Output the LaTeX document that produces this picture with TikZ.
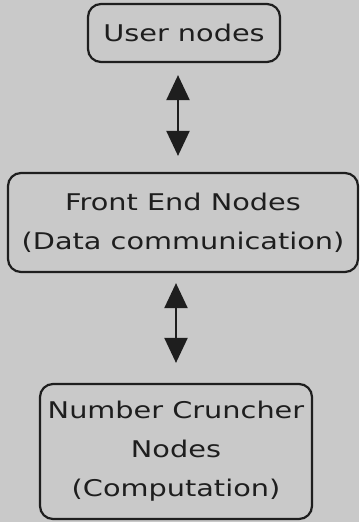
\documentclass[tikz,border=0pt]{standalone}
\usepackage{fontspec}
\newfontfamily\hand[FakeStretch=1.25]{DejaVu Sans}
\usetikzlibrary{arrows.meta}
\definecolor{bg}{HTML}{C9C9C9}
\definecolor{ink}{HTML}{1E1E1E}
\tikzset{
  box/.style={draw=ink, line width=2.2pt, rounded corners=13pt, align=center,
    inner sep=0pt, text=ink, font=\hand\fontsize{23}{39}\selectfont},
  link/.style={draw=ink, line width=2.2pt, {Triangle[width=23pt,length=25pt]}-{Triangle[width=23pt,length=25pt]}}
}
\begin{document}
\begin{tikzpicture}[x=1pt,y=-1pt]
\fill[bg] (0,0) rectangle (359,522);
\useasboundingbox (0,0) rectangle (359,522);
\node[box, minimum width=192pt, minimum height=58pt] (user) at (184,33) {User nodes};
\node[box, minimum width=350pt, minimum height=99pt] (front) at (183,222.5) {Front End Nodes\\(Data communication)};
\node[box, minimum width=272pt, minimum height=135pt] (num) at (176,451.5) {Number Cruncher\\Nodes\\(Computation)};
\draw[link, shorten <=12pt, shorten >=16pt] ([xshift=-6pt]user.south) -- ([xshift=-5pt]front.north);
\draw[link, shorten <=10pt, shorten >=20pt] ([xshift=-7pt]front.south) -- ([xshift=0pt]num.north);
\end{tikzpicture}
\end{document}
